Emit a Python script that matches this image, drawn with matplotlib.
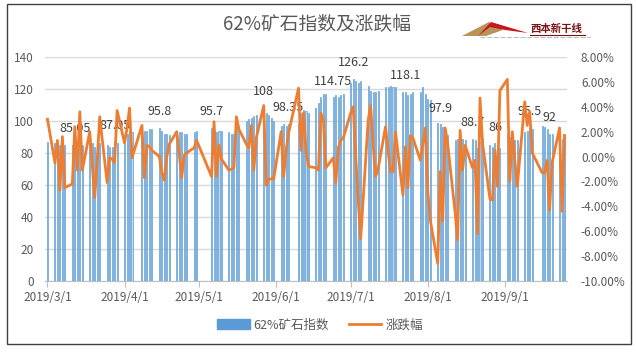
import matplotlib
matplotlib.use('Agg')
import matplotlib.pyplot as plt
import matplotlib.dates as mdates
from matplotlib.patches import Polygon, Rectangle, Patch
from matplotlib.lines import Line2D
import datetime as dt

plt.rcParams['font.family'] = ['Noto Sans CJK SC', 'DejaVu Sans']

# ---------------- data ----------------
mar_days = [1, 4, 5, 6, 7, 8, 11, 12, 13, 14, 15, 18, 19, 20, 21, 22, 25, 26, 27, 28, 29]
apr_days = [1, 2, 3, 4, 8, 9, 10, 11, 12, 15, 16, 17, 18, 19, 22, 23, 24, 25, 26, 29, 30]
may_days = [6, 7, 8, 9, 10, 13, 14, 15, 16, 17, 20, 21, 22, 23, 24, 27, 28, 29, 30, 31]
jun_days = [3, 4, 5, 6, 10, 11, 12, 13, 14, 17, 18, 19, 20, 21, 24, 25, 26, 27, 28]
jul_days = [1, 2, 3, 4, 5, 8, 9, 10, 11, 12, 15, 16, 17, 18, 19, 22, 23, 24, 25, 26, 29, 30, 31]
aug_days = [1, 2, 5, 6, 7, 8, 9, 12, 13, 14, 15, 16, 19, 20, 21, 22, 23, 26, 27, 28, 29, 30]
sep_days = [2, 3, 4, 5, 6, 9, 10, 11, 12, 16, 17, 18, 19, 20, 23, 24, 25]

mar_idx = [87, 86, 86, 85, 86, 85, 85, 85.05, 84, 85, 85, 87, 86, 84, 85, 86, 85, 84, 84, 87.05, 86]
apr_idx = [90, 92, 94, 93, 93, 94, 94, 95, 95, 95.8, 94, 92, 92, 91, 93, 93, 93, 92, 92, 93, 94]
may_idx = [95.7, 94, 93, 94, 94, 93, 92, 92, 95, 97, 100, 101, 102, 103, 104, 108, 105, 104, 102, 100]
jun_idx = [97, 98, 97, 98.35, 99, 105, 107, 106, 105, 108, 111, 115, 117, 117, 114.75, 116, 115, 116, 117]
jul_idx = [124, 126.2, 125, 124, 125, 122, 119, 118, 118, 119, 121, 121, 122, 121, 121, 118, 118.1, 116, 117, 118,
           118, 121, 117]
aug_idx = [114, 113, 99, 97.9, 96, 92, 91, 88, 89, 88, 89, 88, 88.7, 88, 83, 87, 89, 85, 84, 86, 84, 83]
sep_idx = [91, 90, 89, 88, 88, 93, 94, 95.5, 95, 97, 96, 95, 92, 92, 90, 89, 91]

mar_pct = [3.0, -0.5, 1.3, -2.7, 1.6, -2.5, -2.2, 2.4, -1.1, 3.6, -1.1, 2.0, -0.6, -3.3, -0.3, 3.2, -2.1, -0.1, -0.2,
           -0.5, 3.7]
apr_pct = [1.1, 2.3, 3.9, -0.1, 2.5, -1.7, 0.9, 0.8, 0.5, 0.0, -1.3, -1.9, 0.0, 1.0, 2.0, 0.2, -1.7, 0.1, 0.3, 0.7, 1.3]
may_pct = [-1.6, 2.8, -1.6, 0.9, -0.2, -1.1, -1.0, -0.9, 3.2, 2.2, 1.0, 0.7, 2.5, -1.1, 1.5, 4.1, -2.3, -1.8, -1.8, -1.8]
jun_pct = [2.0, -1.6, 0.5, 1.9, 5.5, 0.5, 3.5, 0.5, -0.8, -0.9, -1.1, 3.5, 2.9, -0.9, -0.1, -2.1, 0.7, 1.3, 1.5]
jul_pct = [3.5, 4.0, 0.0, -3.5, -6.6, 2.9, 4.1, 1.0, -1.6, -1.0, 2.4, 0.5, -1.2, -1.2, 2.0, -3.1, 0.8, -2.5, 1.7, 1.5,
           -0.3, 1.0, 2.3]
aug_pct = [-2.8, -5.1, -8.6, -1.2, -5.2, 2.3, 1.0, -4.5, -6.7, 2.1, -1.1, 0.9, -0.9, -0.3, -6.2, 4.7, 1.1, -3.4, -3.5,
           0.5, -2.4, 5.3]
sep_pct = [6.2, -2.0, 2.0, -0.3, -2.4, 4.4, 2.5, 3.6, 0.3, -1.3, -1.3, -0.3, -4.3, -0.5, 2.3, -4.4, 1.7]

# labelled points (month, day, text)
label_points = [(3, 12, "85.05"), (3, 28, "87.05"), (4, 15, "95.8"), (5, 6, "95.7"), (5, 27, "108"),
                (6, 6, "98.35"), (6, 24, "114.75"), (7, 2, "126.2"), (7, 23, "118.1"), (8, 6, "97.9"),
                (8, 19, "88.7"), (8, 28, "86"), (9, 11, "95.5"), (9, 19, "92")]

title = "62%矿石指数及涨跌幅"
bar_name = "62%矿石指数"
line_name = "涨跌幅"

# ---------------- build ----------------
months = [(3, mar_days, mar_idx, mar_pct), (4, apr_days, apr_idx, apr_pct), (5, may_days, may_idx, may_pct),
          (6, jun_days, jun_idx, jun_pct), (7, jul_days, jul_idx, jul_pct), (8, aug_days, aug_idx, aug_pct),
          (9, sep_days, sep_idx, sep_pct)]
dates, idx, pct = [], [], []
for m, ds, iv, pv in months:
    for d, i, p in zip(ds, iv, pv):
        dates.append(dt.date(2019, m, d))
        idx.append(i)
        pct.append(p)
lookup = {d: v for d, v in zip(dates, idx)}

W, H = 636, 353
fig = plt.figure(figsize=(W / 100, H / 100), dpi=100)
fig.patch.set_facecolor('white')

ax = fig.add_axes([45 / W, 1 - 281 / H, 522 / W, 224 / H])
ax.bar(dates, idx, width=0.42, color='#BDD7EE', edgecolor='#5B9BD5', linewidth=0.5, zorder=2)
ax.set_ylim(0, 140)
ax.set_yticks(range(0, 141, 20))
ax.yaxis.grid(True, color='#D9D9D9', linewidth=1.0)
ax.set_axisbelow(True)
ax.set_xlim(mdates.date2num(dt.date(2019, 3, 1)) - 1.0, mdates.date2num(dt.date(2019, 9, 25)) + 1.0)
for s in ['top', 'left', 'right']:
    ax.spines[s].set_visible(False)
ax.spines['bottom'].set_color('#BFBFBF')
xt = [dt.date(2019, m, 1) for m in range(3, 10)]
ax.set_xticks(xt)
ax.set_xticklabels([f"2019/{m}/1" for m in range(3, 10)])
ax.tick_params(axis='x', length=4, color='#BFBFBF', labelsize=8.5, labelcolor='#595959', pad=3)
ax.tick_params(axis='y', length=0, labelsize=8.5, labelcolor='#595959', pad=8)

ax2 = ax.twinx()
ax2.plot(dates, pct, color='#ED7D31', linewidth=2.0, zorder=3)
ax2.set_ylim(-10, 8)
ax2.set_yticks(range(-10, 9, 2))
ax2.set_yticklabels([f"{v:.2f}%" for v in range(-10, 9, 2)])
for s in ['top', 'left', 'right', 'bottom']:
    ax2.spines[s].set_visible(False)
ax2.tick_params(axis='y', length=0, labelsize=8.5, labelcolor='#595959', pad=10)

for m, d, txt in label_points:
    dd = dt.date(2019, m, d)
    ax.annotate(txt, (dd, lookup[dd]), xytext=(0, 7), textcoords='offset points', ha='center', va='bottom',
                fontsize=9, color='#404040', zorder=5, annotation_clip=False)

fig.text(317 / W, 1 - 25 / H, title, ha='center', va='center', fontsize=13.5, color='#595959')

handles = [Patch(facecolor='#5B9BD5', edgecolor='#5B9BD5'),
           Line2D([0], [0], color='#ED7D31', linewidth=2.0)]
fig.legend(handles, [bar_name, line_name], loc='center', bbox_to_anchor=(0.503, 1 - 325 / H), ncol=2,
           frameon=False, fontsize=9, handlelength=2.6, handleheight=0.9, columnspacing=1.6, handletextpad=0.3,
           labelcolor='#595959')

# logo
def P(x, y):
    return (x / W, 1 - y / H)

fig.add_artist(Polygon([P(462, 36), P(489, 22), P(503, 30), P(486, 36)], closed=True, transform=fig.transFigure,
                       facecolor='#B8935A', edgecolor='none'))
fig.add_artist(Polygon([P(478, 36), P(491, 22), P(528, 33), P(505, 30), P(490, 27)], closed=True,
                       transform=fig.transFigure, facecolor='#C8161D', edgecolor='none'))
fig.text(556 / W, 1 - 29 / H, "西本新干线", ha='center', va='center', fontsize=7.5, fontweight='bold',
         style='italic', color='#7A1315')
fig.add_artist(Line2D([530 / W, 585 / W], [1 - 34.5 / H, 1 - 34.5 / H], transform=fig.transFigure,
                      color='#7A1315', linewidth=0.8))
fig.add_artist(Line2D([480 / W, 590 / W], [1 - 37 / H, 1 - 37 / H], transform=fig.transFigure,
                      color='#B0B0B0', linewidth=0.6, linestyle=(0, (6, 2))))

# chart border
fig.add_artist(Rectangle((7 / W, 1 - 344 / H), (631 - 7) / W, (344 - 4) / H, transform=fig.transFigure,
                         fill=False, edgecolor='#404040', linewidth=1.0))

fig.savefig('out.png', dpi=100)
